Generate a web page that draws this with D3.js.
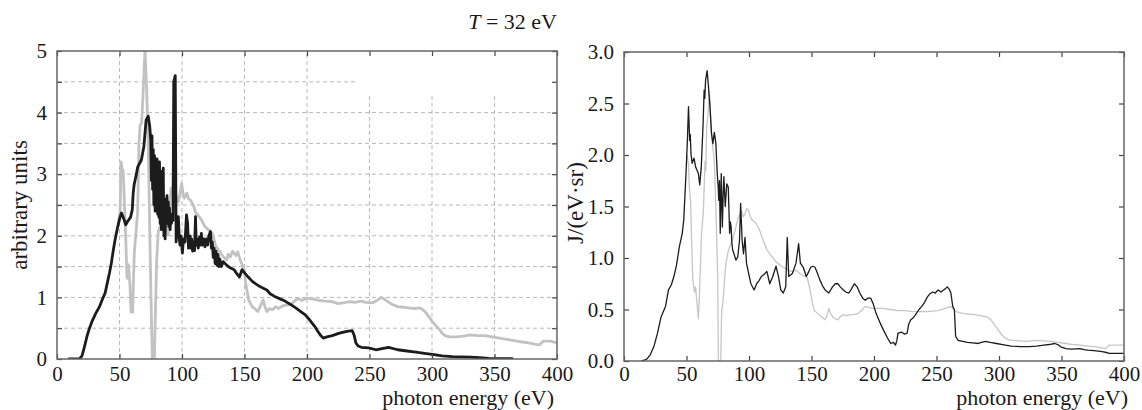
<!DOCTYPE html>
<html><head><meta charset="utf-8">
<script src="https://cdn.jsdelivr.net/npm/d3@7"></script>
<style>
body{margin:0;background:#fff;}
svg{display:block;}
text{font-family:"Liberation Serif","Times New Roman",serif;fill:#1a1a1a;}
</style></head><body>
<svg id="c" width="1142" height="410"></svg>
<script>
// ---- data ----
const xTicks = [0,50,100,150,200,250,300,350,400];
const leftYTicks = [0,0.5,1,1.5,2,2.5,3,3.5,4,4.5,5];
const rightYTicks = [0,0.5,1,1.5,2,2.5,3];
const titleText = "T";
const titleRest = " = 32 eV";

const leftBlack = [[9,0],[18,0],[20,0.05],[22,0.2],[24,0.37],[26,0.5],[28,0.61],[31,0.74],[34,0.85],[36.5,0.98],[38.5,1.07],[40.5,1.26],[42,1.4],[43.5,1.56],[45,1.76],[46.5,1.94],[48.6,2.15],[50.3,2.29],[51.6,2.37],[53.2,2.29],[55,2.18],[56.7,2.24],[58.8,2.3],[60.2,2.42],[61,2.7],[61.7,2.83],[63.1,2.96],[64.6,3.12],[67.5,3.23],[69.5,3.45],[71.3,3.88],[73,3.94],[74.2,3.77],[75,3.55],[75.5,2.9],[76,3.62],[76.5,2.75],[77,3.4],[77.5,2.5],[78,3.3],[78.5,2.4],[79,3.2],[79.5,2.45],[80,3.25],[80.5,2.35],[81,3.1],[81.5,2.3],[82,3.2],[82.5,2.2],[83,3.05],[83.5,2.1],[84,2.9],[84.5,2.2],[85,3.1],[85.5,2.0],[86,2.5],[86.5,1.95],[87,2.6],[87.5,2.3],[88,2.65],[88.5,2.2],[89,2.55],[89.5,2.15],[90,2.45],[90.5,2.1],[91,2.35],[91.5,2.2],[92.2,2.3],[92.8,2.25],[93.4,4.5],[94.6,4.6],[95.3,1.9],[96,2.2],[97.1,2.31],[97.8,1.95],[98.4,1.85],[99.3,2.0],[100.3,1.72],[101.2,1.95],[102.4,1.9],[103.6,2.34],[104.5,2.2],[105.2,1.8],[105.9,1.85],[106.5,2.0],[107,1.8],[107.7,1.95],[108.5,1.75],[109.2,1.9],[110,1.76],[110.8,2.31],[111.4,1.85],[112,1.95],[113,1.8],[114,1.98],[115,1.85],[115.5,2.04],[116.5,1.85],[117.5,1.95],[118.4,1.82],[119.5,1.95],[120.5,1.85],[121.5,2.0],[122.8,2.07],[123.5,1.8],[124.2,1.9],[125,1.65],[125.7,1.8],[126.5,1.55],[127.3,1.75],[128,1.52],[128.8,1.7],[129.5,1.5],[130.3,1.62],[131.5,1.5],[133,1.58],[135.9,1.52],[138.5,1.48],[141.7,1.45],[144,1.38],[146,1.33],[148,1.45],[150.4,1.39],[153,1.33],[156.2,1.26],[159,1.22],[162,1.18],[165,1.15],[167.9,1.12],[170.5,1.06],[173.7,1.02],[178,0.98],[182.4,0.94],[186.5,0.89],[191,0.83],[195,0.77],[198.4,0.72],[201.5,0.65],[204.2,0.58],[206.5,0.52],[208.6,0.45],[211,0.38],[213,0.34],[215.9,0.36],[220.2,0.38],[226,0.42],[231.9,0.45],[236.2,0.46],[237.8,0.38],[239.1,0.26],[241,0.21],[243.5,0.19],[249.3,0.18],[255.1,0.15],[260,0.17],[265.3,0.19],[272.6,0.15],[280,0.13],[287.1,0.11],[294,0.09],[301.7,0.07],[308,0.05],[316.2,0.04],[323,0.035],[330.8,0.03],[338,0.02],[345.3,0.01],[362.8,0.005],[365,0]];

const leftGray = [[49,2.2],[50.5,2.4],[51.2,3.2],[52,3.1],[53,3.04],[53.9,2.55],[55,1.96],[56,1.31],[57.1,1.53],[58.4,1.2],[59.2,0.76],[60.5,0.76],[61.2,1.3],[61.9,1.74],[63,2.01],[64.5,2.39],[65.6,3.5],[66.5,3.8],[67.7,3.83],[69,4.37],[70.4,5.0],[71.7,4.4],[73,3.48],[74.4,1.85],[75.7,0.5],[76.3,0],[77.9,0],[78.4,0.5],[79.7,1.58],[81,2.07],[83.7,2.23],[86.3,2.28],[89,2.01],[90.2,2.5],[91.2,2.77],[92,2.7],[93.1,2.82],[94.4,2.72],[95.8,2.6],[97.1,2.55],[98.5,2.7],[99.7,2.85],[100.8,2.7],[101.9,2.61],[103.9,2.69],[105.3,2.6],[106.8,2.58],[109,2.5],[111.1,2.37],[113,2.33],[115.5,2.26],[118.4,2.15],[121,2.1],[124.2,2.04],[125.5,1.95],[127,1.83],[130,1.75],[133,1.66],[135.9,1.61],[137,1.7],[138.8,1.66],[140.5,1.75],[141.7,1.72],[143,1.68],[144.6,1.74],[146,1.64],[147.5,1.56],[149.8,1.45],[150.8,1.25],[151.9,1.12],[153.3,0.96],[154.8,0.9],[156.2,0.85],[158,0.82],[160.6,0.77],[162.5,0.85],[164.9,0.96],[166.3,0.85],[167.9,0.77],[170,0.82],[172.2,0.8],[175.1,0.85],[177,0.82],[179.5,0.85],[182,0.87],[185.3,0.88],[188,0.9],[191.1,0.96],[193.5,0.98],[196,0.95],[199.9,0.99],[205,0.97],[210,0.95],[214.4,0.94],[220,0.93],[225,0.9],[229,0.91],[234,0.93],[238,0.92],[243.5,0.94],[247,0.92],[252.2,0.91],[256,0.95],[259.5,1.0],[261.5,0.98],[263.9,0.94],[268,0.89],[272.6,0.85],[277,0.84],[281.3,0.83],[286,0.82],[290,0.83],[292,0.81],[294.4,0.77],[297,0.7],[300.2,0.61],[303,0.54],[306,0.48],[308,0.42],[310.4,0.38],[314,0.36],[319.1,0.36],[325,0.37],[330.8,0.39],[336,0.38],[342.4,0.38],[348,0.36],[354,0.34],[360,0.32],[365.7,0.3],[371,0.28],[377.3,0.26],[382,0.24],[386,0.23],[389,0.29],[394.7,0.29],[400,0.26]];

const rightBlack = [[13.7,0],[18,0.016],[21,0.06],[23.9,0.14],[26.8,0.27],[29.7,0.43],[31.5,0.48],[33.2,0.53],[35.6,0.69],[37.9,0.74],[39.9,0.82],[42,0.93],[44.3,1.11],[46.6,1.24],[47.8,1.37],[49.6,1.82],[50.7,2.14],[51.6,2.47],[52.5,2.14],[53,2.2],[53.6,2.01],[54.5,1.92],[56,1.97],[57.4,1.88],[59.5,1.82],[60.6,1.71],[61.8,1.88],[63.3,2.31],[64.1,2.63],[64.6,2.55],[65.3,2.73],[66.5,2.82],[67.6,2.66],[68.8,2.47],[70,2.21],[71.1,2.11],[72.3,2.22],[73.5,2.11],[74.6,1.82],[75.3,1.7],[75.8,1.56],[76.4,1.75],[77,1.24],[77.8,1.82],[78.7,1.3],[79.3,1.6],[79.9,1.79],[81,1.5],[82.2,1.72],[83.4,1.69],[84.5,1.24],[85.1,1.35],[85.7,1.3],[86.3,1.15],[86.9,1.08],[88,1.04],[89.5,0.98],[91,1.01],[92.4,1.17],[93.3,1.53],[94.5,1.17],[95.6,1.04],[96.8,1.2],[98,0.95],[99.7,0.85],[101.5,0.75],[104.1,0.69],[106.1,0.75],[108,0.78],[109.9,0.82],[112,0.84],[114.3,0.87],[116.6,0.75],[119,0.82],[121.6,0.92],[123.6,0.82],[125.4,0.69],[127.4,0.66],[129.4,0.72],[130.6,1.2],[131.8,0.82],[134.7,0.85],[137.6,0.95],[139.7,1.14],[141.1,0.95],[143.4,0.91],[145.8,0.82],[147.5,0.86],[149.3,0.91],[151,0.92],[152.8,0.91],[154.5,0.86],[156.6,0.79],[158.8,0.73],[160.9,0.69],[163.8,0.66],[166.8,0.72],[169,0.75],[171.1,0.75],[173,0.72],[175.5,0.69],[177.5,0.67],[179.9,0.66],[182,0.7],[184.3,0.75],[186.5,0.72],[188.6,0.66],[191,0.61],[193,0.59],[195,0.61],[197.4,0.61],[199.5,0.55],[201.7,0.46],[204.5,0.38],[207.6,0.3],[210.5,0.23],[213.4,0.17],[215.5,0.18],[217.2,0.155],[218.3,0.2],[219.2,0.27],[222.2,0.28],[224.5,0.26],[226.5,0.27],[227.8,0.36],[229.4,0.4],[231.5,0.42],[233.8,0.46],[236,0.5],[238.2,0.53],[240.5,0.57],[242.6,0.62],[244.5,0.65],[246.9,0.67],[249,0.66],[251.3,0.69],[253.5,0.67],[255.7,0.69],[257,0.7],[258.6,0.72],[260,0.7],[261.5,0.66],[263,0.53],[264.3,0.5],[265.3,0.24],[267.3,0.2],[271,0.19],[274.6,0.18],[279,0.175],[283.4,0.17],[286,0.18],[289.2,0.19],[293,0.18],[297.9,0.17],[303,0.16],[309.6,0.145],[317,0.14],[324.2,0.14],[330,0.145],[335.9,0.155],[340,0.16],[344.6,0.17],[347,0.16],[349,0.14],[353.4,0.12],[358,0.115],[365,0.12],[368,0.11],[370.8,0.105],[376,0.1],[382.5,0.09],[385,0.085],[388.3,0.075],[394,0.075],[400,0.075]];

const rightGray = [[50.5,2.0],[51.6,1.9],[52.3,1.68],[53.3,1.55],[54,1.2],[55,0.8],[56.3,0.67],[57.2,0.72],[58.1,0.6],[59.5,0.41],[60.2,0.6],[60.8,0.8],[62.1,1.25],[63.5,1.45],[64.8,1.94],[65.5,1.85],[66.1,2.27],[67.2,2.4],[68.3,2.62],[69.6,2.27],[71,2.08],[72.3,1.94],[73.6,1.45],[75,0.8],[75.5,0],[77.4,0],[78.1,0.47],[79.3,0.59],[80.5,0.8],[81.6,0.95],[83.6,1.08],[86.2,1.16],[88.8,1.26],[91,1.38],[92.5,1.42],[93.9,1.46],[95.5,1.4],[96.8,1.43],[98.2,1.48],[99.7,1.46],[101,1.4],[102.6,1.37],[105.5,1.34],[108.5,1.27],[111.4,1.17],[114.3,1.08],[116.5,1.04],[118.7,1.01],[121,0.97],[123,0.95],[125,0.93],[127.4,0.91],[129.5,0.9],[131.8,0.88],[134.5,0.87],[137.6,0.88],[140.5,0.85],[143.4,0.83],[146.4,0.82],[147.8,0.75],[149.3,0.66],[150.8,0.56],[152.2,0.49],[155.1,0.46],[158,0.43],[160.9,0.4],[162.5,0.45],[163.8,0.51],[165.3,0.46],[166.8,0.43],[169,0.41],[171.1,0.4],[173,0.43],[175.5,0.45],[178,0.44],[181.3,0.45],[184,0.45],[187.2,0.46],[190,0.49],[193,0.53],[196,0.52],[198.8,0.51],[203,0.51],[207.6,0.51],[213,0.5],[219.2,0.49],[225,0.49],[230.9,0.48],[236,0.48],[242.6,0.48],[247,0.485],[251.3,0.49],[254,0.5],[257.1,0.51],[259.5,0.52],[261.5,0.53],[263.5,0.5],[265.9,0.48],[268.5,0.47],[271.7,0.46],[276,0.455],[280.5,0.45],[285,0.44],[289.2,0.43],[291.5,0.42],[293.6,0.4],[296.5,0.35],[299.4,0.3],[302.5,0.25],[305.2,0.22],[308,0.205],[311.1,0.2],[316,0.195],[321.3,0.19],[326,0.195],[330,0.2],[336,0.195],[341.7,0.19],[347,0.18],[353.4,0.17],[359,0.16],[365,0.155],[371,0.145],[376.7,0.14],[381,0.13],[385.4,0.12],[387,0.14],[388.3,0.155],[394,0.155],[400,0.155]];

// ---- layout ----
const svg = d3.select("#c");
const tickFont = 21;
const labelFont = 22;
const L = {x0:57, x1:557, y0:51, y1:359, pad:7};
const R = {x0:624, x1:1124, y0:52, y1:361, pad:5};

function panel(P, yMax, yTicks, yFmt, lines, grid, lw, id){
  const x = d3.scaleLinear().domain([0,400]).range([P.x0,P.x1]);
  const y = d3.scaleLinear().domain([0,yMax]).range([P.y1,P.y0]);
  const g = svg.append("g");
  if(grid){
    // vertical grid (upper right region is blanked in the reference)
    g.selectAll(".vg").data(xTicks.slice(1,-1)).enter().append("line")
      .attr("x1",d=>x(d)).attr("x2",d=>x(d))
      .attr("y1",y(0)).attr("y2",d=>d>=250?y(4.32):y(yMax))
      .attr("stroke","#b8b8b8").attr("stroke-width",1).attr("stroke-dasharray","4,3");
    g.selectAll(".hg").data(yTicks.slice(1,-1)).enter().append("line")
      .attr("x1",x(0)).attr("x2",d=>d>4.2?x(240):x(400))
      .attr("y1",d=>y(d)).attr("y2",d=>y(d))
      .attr("stroke","#b8b8b8").attr("stroke-width",1).attr("stroke-dasharray","4,3");
  }
  const defs = svg.append("defs");
  defs.append("clipPath").attr("id","clip"+id).append("rect")
    .attr("x",P.x0).attr("y",P.y0).attr("width",P.x1-P.x0).attr("height",P.y1-P.y0);
  const line = d3.line().x(d=>x(d[0])).y(d=>y(d[1]));
  lines.forEach(l=>{
    g.append("path").datum(l.data).attr("d",line).attr("fill","none")
      .attr("stroke",l.color).attr("stroke-width",lw).attr("stroke-linejoin","round")
      .attr("clip-path","url(#clip"+id+")");
  });
  const tickCol="#444";
  const ax = (a)=>a.tickSizeOuter(0);
  const b = g.append("g").attr("transform",`translate(0,${P.y1})`)
    .call(ax(d3.axisBottom(x).tickValues(xTicks).tickSizeInner(-5).tickPadding(P.pad)));
  const t = g.append("g").attr("transform",`translate(0,${P.y0})`)
    .call(ax(d3.axisTop(x).tickValues(xTicks).tickSizeInner(-5).tickFormat("")));
  const lft = g.append("g").attr("transform",`translate(${P.x0},0)`)
    .call(ax(d3.axisLeft(y).tickValues(yTicks).tickSizeInner(-5).tickPadding(10).tickFormat(yFmt)));
  const rt = g.append("g").attr("transform",`translate(${P.x1},0)`)
    .call(ax(d3.axisRight(y).tickValues(yTicks).tickSizeInner(-5).tickFormat("")));
  [b,t,lft,rt].forEach(a=>{
    a.select(".domain").remove();
    a.selectAll("line").attr("stroke",tickCol).attr("stroke-width",1.2);
    a.selectAll("text").attr("font-size",tickFont).attr("font-family",'"Liberation Serif","Times New Roman",serif').attr("fill","#1a1a1a");
  });
  g.append("rect").attr("x",P.x0).attr("y",P.y0).attr("width",P.x1-P.x0).attr("height",P.y1-P.y0)
    .attr("fill","none").attr("stroke","#666").attr("stroke-width",1.5);
  return {x,y,g};
}

panel(L,5,leftYTicks,d=>Number.isInteger(d)?String(d):"",
  [{data:leftGray,color:"#c2c2c2"},{data:leftBlack,color:"#1c1c1c"}],true,2.8,"L");
panel(R,3,rightYTicks,d3.format(".1f"),
  [{data:rightGray,color:"#c6c6c6"},{data:rightBlack,color:"#1c1c1c"}],false,1.3,"R");

// labels
svg.append("text").attr("x",554).attr("y",405).attr("text-anchor","end")
  .attr("font-size",labelFont).text("photon energy (eV)");
svg.append("text").attr("x",1128).attr("y",405).attr("text-anchor","end")
  .attr("font-size",labelFont).text("photon energy (eV)");
svg.append("text").attr("transform","translate(27,205) rotate(-90)")
  .attr("text-anchor","middle").attr("font-size",23).text("arbitrary units");
svg.append("text").attr("transform","translate(583,203) rotate(-90)")
  .attr("text-anchor","middle").attr("font-size",23).text("J/(eV·sr)");
const tt = svg.append("text").attr("x",557).attr("y",29).attr("text-anchor","end").attr("font-size",22);
tt.append("tspan").attr("font-style","italic").text(titleText);
tt.append("tspan").text(titleRest);
</script>
</body></html>
